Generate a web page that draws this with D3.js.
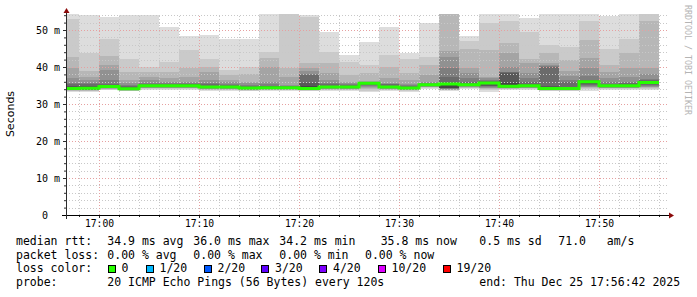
<!DOCTYPE html>
<html>
<head>
<meta charset="utf-8">
<script src="https://cdn.jsdelivr.net/npm/d3@7/dist/d3.min.js"></script>
<style>
  html, body { margin: 0; padding: 0; background: #fff; }
  svg { display: block; }
  text { font-family: "DejaVu Sans Mono", monospace; }
</style>
</head>
<body>
<svg id="chart" width="697" height="297"></svg>
<script>
// time range of the graph and the 120s steps
var viewStart = "2025-12-25T16:56:42";
var viewEnd = "2025-12-25T17:57:00";
var firstStep = "2025-12-25T16:56:00";
var stepSeconds = 120;

// 20 sorted ping rtts (ms) per step
var pings = [
  [33.3,33.5,33.6,33.7,33.8,33.8,33.9,33.9,34.0,34.1, 34.3,34.6,35.0,35.3,35.7,37.0,39.7,42.7,53.0,56],
  [33.3,33.5,33.6,33.7,33.8,33.8,33.9,34.0,34.1,34.2, 34.3,34.6,35.0,35.4,35.8,36.5,37.4,38.9,43.9,54.0],
  [33.7,33.9,34.0,34.1,34.2,34.3,34.4,34.5,34.6,34.6, 34.8,35.0,35.2,35.5,36.5,39.2,40.5,43.1,47.7,53.6],
  [33.4,33.5,33.6,33.7,33.8,33.8,33.9,34.0,34.0,34.1, 34.1,34.3,34.6,34.9,35.2,35.7,36.5,38.7,42.1,54.0],
  [33.9,34.1,34.2,34.3,34.4,34.5,34.6,34.7,34.8,34.9, 34.9,35.0,35.2,35.5,35.8,36.5,37.3,38.7,40.1,54.0],
  [33.9,34.1,34.2,34.3,34.4,34.5,34.6,34.7,34.8,34.9, 34.9,35.0,35.2,35.4,35.7,36.0,37.0,38.7,41.4,50.9],
  [33.8,34.0,34.2,34.3,34.4,34.5,34.6,34.7,34.8,34.8, 35.0,35.1,35.3,35.5,35.7,35.9,37.3,39.7,44.6,48.4],
  [33.6,33.8,33.9,34.0,34.1,34.2,34.3,34.4,34.5,34.6, 34.6,34.8,35.0,35.3,35.8,36.5,38.6,40.0,42.1,48.6],
  [33.6,33.8,33.9,34.0,34.1,34.2,34.3,34.4,34.5,34.6, 34.6,34.8,35.0,35.2,35.5,36.0,36.5,37.8,39.2,47.5],
  [33.4,33.6,33.7,33.8,33.9,34.0,34.1,34.1,34.2,34.3, 34.3,34.5,34.7,34.9,35.2,35.6,36.0,38.1,40.1,47.5],
  [33.5,33.7,33.8,33.9,34.0,34.1,34.2,34.3,34.3,34.4, 34.4,34.6,34.8,35.0,35.5,36.0,40.0,42.3,44.1,56],
  [33.5,33.7,33.8,33.9,34.0,34.1,34.2,34.3,34.3,34.4, 34.4,34.5,34.6,34.8,35.0,35.1,37.3,39.7,55,57],
  [33.4,33.6,33.7,33.8,33.9,33.9,34.0,34.0,34.1,34.1, 34.3,34.8,35.6,37.8,38.2,38.8,39.7,41.2,53.4,54.0],
  [33.6,33.8,33.9,34.0,34.1,34.2,34.3,34.4,34.5,34.6, 34.6,34.8,35.0,35.3,35.8,36.5,38.3,41.0,44.1,49.5],
  [33.6,33.8,33.9,34.0,34.1,34.2,34.3,34.4,34.5,34.6, 34.6,34.7,34.9,35.1,35.4,35.7,36.0,37.8,41.4,43.2],
  [33.3,33.6,34.0,34.3,34.6,34.9,35.1,35.3,35.5,35.6, 35.6,35.7,35.8,35.8,35.9,36.0,36.2,38.5,40.5,46.8],
  [33.6,33.8,33.9,34.0,34.1,34.2,34.3,34.4,34.5,34.6, 34.6,34.8,35.0,35.3,35.5,35.8,36.9,40.1,43.2,50.9],
  [33.3,33.5,33.7,33.8,33.9,34.0,34.1,34.2,34.2,34.3, 34.3,34.5,34.7,34.9,35.1,35.3,36.5,38.3,42.1,43.7],
  [34.0,34.3,34.5,34.6,34.7,34.8,34.9,35.0,35.1,35.2, 35.2,35.3,35.4,35.5,35.7,36.0,37.8,40.5,42.8,51.8],
  [33.5,33.7,33.8,33.9,34.0,34.1,34.2,34.3,34.4,35.3, 35.5,35.6,35.8,37.4,39.6,42.6,44.4,55,56,57],
  [34.0,34.2,34.4,34.6,34.7,34.8,34.9,35.0,35.1,35.2, 35.2,35.3,35.5,36.0,36.9,38.5,39.6,44.8,47.1,48.4],
  [33.3,33.7,34.0,34.2,34.4,34.6,34.8,35.0,35.3,35.6, 35.8,35.9,36.0,36.2,36.5,37.0,37.4,44.6,51.8,57],
  [33.8,34.0,34.1,34.2,34.3,34.4,34.5,34.6,34.7,34.7, 34.9,35.7,38.5,38.6,38.7,40.1,43.7,46.4,52.3,57],
  [33.9,34.1,34.2,34.3,34.4,34.5,34.6,34.7,34.8,34.9, 34.9,35.1,35.4,36.0,37.0,38.3,41.0,42.1,49.5,53.2],
  [33.4,33.6,33.7,33.8,33.9,33.9,34.0,34.0,34.1,34.1, 34.3,34.5,34.8,40.0,40.2,40.5,41.0,43.7,46.0,57],
  [33.4,33.6,33.7,33.8,33.9,33.9,34.0,34.0,34.1,34.1, 34.3,34.5,34.6,36.0,36.5,37.5,39.0,41.9,45.5,57],
  [33.6,34.0,34.3,34.5,34.7,34.9,35.1,35.4,35.7,35.9, 36.1,36.2,36.3,36.5,37.5,39.6,42.3,47.3,52.3,57],
  [33.8,34.0,34.2,34.3,34.4,34.5,34.6,34.7,34.8,34.9, 34.9,35.0,35.2,35.5,36.0,37.0,38.7,40.5,44.8,53.8],
  [33.8,34.0,34.2,34.3,34.4,34.5,34.6,34.7,34.8,34.9, 34.9,35.1,35.3,35.6,36.0,37.4,39.6,43.7,47.5,57],
  [33.8,34.1,34.3,34.5,34.7,34.9,35.1,35.3,35.5,35.7, 35.9,36.0,36.1,36.4,36.7,38.0,39.7,52.3,56,58]
];

// lost pings per step (all zero here)
var loss = [0,0,0,0,0,0,0,0,0,0, 0,0,0,0,0,0,0,0,0,0, 0,0,0,0,0,0,0,0,0,0];

var lossLevels = ["0", "1/20", "2/20", "3/20", "4/20", "10/20", "19/20"];
var lossCounts = [0, 1, 2, 3, 4, 10, 19];
var lossColors = ["#26ff00", "#00b8ff", "#0059ff", "#5e00ff", "#7e00ff", "#dd00ff", "#ff0000"];

var yMajor = [0, 10, 20, 30, 40, 50];
var yMinor = [2,4,6,8,12,14,16,18,22,24,26,28,32,34,36,38,42,44,46,48,52,54];

var rttStats = ["34.9 ms avg", "36.0 ms max", "34.2 ms min", "35.8 ms now", "0.5 ms sd", "71.0   am/s"];
var lossStats = ["0.00 % avg", "0.00 % max", "0.00 % min", "0.00 % now"];
var probeText = "20 ICMP Echo Pings (56 Bytes) every 120s";
var endText = "end: Thu Dec 25 17:56:42 2025";

var svg = d3.select("#chart");
var parse = d3.timeParse("%Y-%m-%dT%H:%M:%S");
var t0 = parse(viewStart), t1 = parse(viewEnd);

var x = d3.scaleTime().domain([t0, t1]).range([66, 669]);
var y = d3.scaleLinear().domain([0, 50]).range([215, 30]);
var plotTop = 14;

var steps = pings.map(function(p, i) {
  var s = d3.timeSecond.offset(parse(firstStep), i * stepSeconds);
  var e = d3.timeSecond.offset(s, stepSeconds);
  return {
    start: s < t0 ? t0 : s,
    end: e,
    pings: p,
    median: (p[9] + p[10]) / 2,
    loss: loss[i]
  };
});

svg.append("defs").append("clipPath").attr("id", "plot")
  .append("rect").attr("x", 66).attr("y", plotTop).attr("width", 603).attr("height", 215 - plotTop);

// smoke: band k spans ping k .. ping 21-k, darker towards the middle
var smoke = svg.append("g").attr("clip-path", "url(#plot)");
for (var k = 1; k <= 10; k++) {
  var g = Math.floor(190 / 10 * (10 - k)) + 50;
  var shade = d3.rgb(g, g, g).toString();
  smoke.selectAll("rect.b" + k)
    .data(steps)
    .enter().append("rect")
    .attr("class", "b" + k)
    .attr("x", function(d) { return x(d.start); })
    .attr("width", function(d) { return x(d.end) - x(d.start); })
    .attr("y", function(d) { return y(d.pings[20 - k]); })
    .attr("height", function(d) { return y(d.pings[k - 1]) - y(d.pings[20 - k]); })
    .attr("fill", shade)
    .attr("shape-rendering", "crispEdges");
}

// grid
var grid = svg.append("g").attr("shape-rendering", "crispEdges");
var minorTimes = d3.timeMinute.every(2).range(t0, t1).filter(function(d) { return d.getMinutes() % 10 !== 0; });
var majorTimes = d3.timeMinute.every(10).range(t0, t1);

grid.selectAll("line.hmin").data(yMinor).enter().append("line")
  .attr("x1", 66).attr("x2", 669)
  .attr("y1", function(d) { return Math.round(y(d)) + 0.5; })
  .attr("y2", function(d) { return Math.round(y(d)) + 0.5; })
  .attr("stroke", "#c8c8c8").attr("stroke-dasharray", "1,2");
grid.selectAll("line.vmin").data(minorTimes).enter().append("line")
  .attr("x1", function(d) { return x(d) + 0.5; })
  .attr("x2", function(d) { return x(d) + 0.5; })
  .attr("y1", 215).attr("y2", plotTop)
  .attr("stroke", "#c8c8c8").attr("stroke-dasharray", "1,2");
grid.selectAll("line.hmaj").data(yMajor.slice(1)).enter().append("line")
  .attr("x1", 66).attr("x2", 669)
  .attr("y1", function(d) { return Math.round(y(d)) + 0.5; })
  .attr("y2", function(d) { return Math.round(y(d)) + 0.5; })
  .attr("stroke", "#e6a0a0").attr("stroke-dasharray", "1,2");
grid.selectAll("line.vmaj").data(majorTimes).enter().append("line")
  .attr("x1", function(d) { return x(d) + 0.5; })
  .attr("x2", function(d) { return x(d) + 0.5; })
  .attr("y1", 215).attr("y2", plotTop)
  .attr("stroke", "#e6a0a0").attr("stroke-dasharray", "1,2");

// median line, coloured by loss
function lossColor(n) {
  var c = lossColors[0];
  lossCounts.forEach(function(v, i) { if (n >= v) c = lossColors[i]; });
  return c;
}
var medPts = steps.map(function(d) { return [x(d.start), y(d.median)]; });
var last = steps[steps.length - 1];
medPts.push([x(last.end), y(last.median)]);
svg.append("path")
  .attr("d", d3.line().curve(d3.curveStepAfter)(medPts))
  .attr("fill", "none")
  .attr("stroke", lossColor(d3.max(loss)))
  .attr("stroke-width", 3)
  .attr("clip-path", "url(#plot)");

// axes
var xAxis = d3.axisBottom(x)
  .tickValues(majorTimes)
  .tickFormat(d3.timeFormat("%H:%M"))
  .tickSize(3).tickPadding(2.5);
var gx = svg.append("g").attr("transform", "translate(0,215)").call(xAxis);
gx.select(".domain").remove();
gx.selectAll("text").attr("font-size", "9.7px").attr("fill", "#000")
  .style("font-family", "'DejaVu Sans Mono', monospace");
gx.selectAll("line").attr("stroke", "#2c2c2c");
svg.append("g").attr("transform", "translate(0,215)")
  .call(d3.axisBottom(x).tickValues(minorTimes).tickSize(2).tickFormat(""))
  .call(function(g) { g.select(".domain").remove(); g.selectAll("line").attr("stroke", "#2c2c2c"); });

var yAxis = d3.axisLeft(y)
  .tickValues(yMajor)
  .tickFormat(function(d) { return d === 0 ? "0\u00a0\u00a0" : d + " m"; })
  .tickSize(3).tickPadding(3);
var gy = svg.append("g").attr("transform", "translate(66,0)").call(yAxis);
gy.select(".domain").remove();
gy.selectAll("text").attr("font-size", "10px").attr("fill", "#000")
  .style("font-family", "'DejaVu Sans Mono', monospace");
gy.selectAll("line").attr("stroke", "#2c2c2c");
svg.append("g").attr("transform", "translate(66,0)")
  .call(d3.axisLeft(y).tickValues(yMinor).tickSize(2).tickFormat(""))
  .call(function(g) { g.select(".domain").remove(); g.selectAll("line").attr("stroke", "#2c2c2c"); });

svg.append("line").attr("x1", 62).attr("x2", 669).attr("y1", 215.5).attr("y2", 215.5)
  .attr("stroke", "#000").attr("shape-rendering", "crispEdges");
svg.append("line").attr("x1", 66.5).attr("x2", 66.5).attr("y1", 219).attr("y2", 12)
  .attr("stroke", "#2c2c2c").attr("shape-rendering", "crispEdges");
svg.append("path").attr("d", "M669,212.5L674,215.5L669,218.5Z").attr("fill", "#8b0a0a");
svg.append("path").attr("d", "M63.5,13L66.5,8L69.5,13Z").attr("fill", "#8b0a0a");

// titles
svg.append("text")
  .attr("transform", "translate(14,114) rotate(-90)")
  .attr("text-anchor", "middle")
  .style("font-family", "'DejaVu Sans', sans-serif")
  .attr("font-size", "11px")
  .text("Seconds");
svg.append("text")
  .attr("transform", "translate(685,5) rotate(90)")
  .attr("font-size", "8.3px")
  .attr("fill", "#b4b4b4")
  .text("RRDTOOL / TOBI OETIKER");

// legend
var legend = svg.append("g").attr("font-size", "11.5px").attr("fill", "#000")
  .style("white-space", "pre");
function put(tx, ty, s) {
  legend.append("text").attr("x", tx).attr("y", ty).attr("xml:space", "preserve").text(s);
}
put(16, 245, "median rtt:");
[107.3, 193.3, 279.3, 380.7, 479.3, 558.3].forEach(function(px, i) { put(px, 245, rttStats[i]); });
put(16, 258.5, "packet loss:");
[107.3, 193.3, 279.3, 365].forEach(function(px, i) { put(px, 258.5, lossStats[i]); });
put(16, 272, "loss color:");
var boxX = [107.5, 145.5, 203.5, 261, 319, 377.5, 442.5];
lossLevels.forEach(function(lbl, i) {
  legend.append("rect").attr("x", boxX[i] + 0.5).attr("y", 265.5).attr("width", 7).attr("height", 7)
    .attr("fill", lossColors[i]).attr("stroke", "#000").attr("shape-rendering", "crispEdges");
  put(boxX[i] + 14, 272, lbl);
});
put(16, 285.5, "probe:");
put(107.3, 285.5, probeText);
put(479.3, 285.5, endText);
</script>
</body>
</html>
